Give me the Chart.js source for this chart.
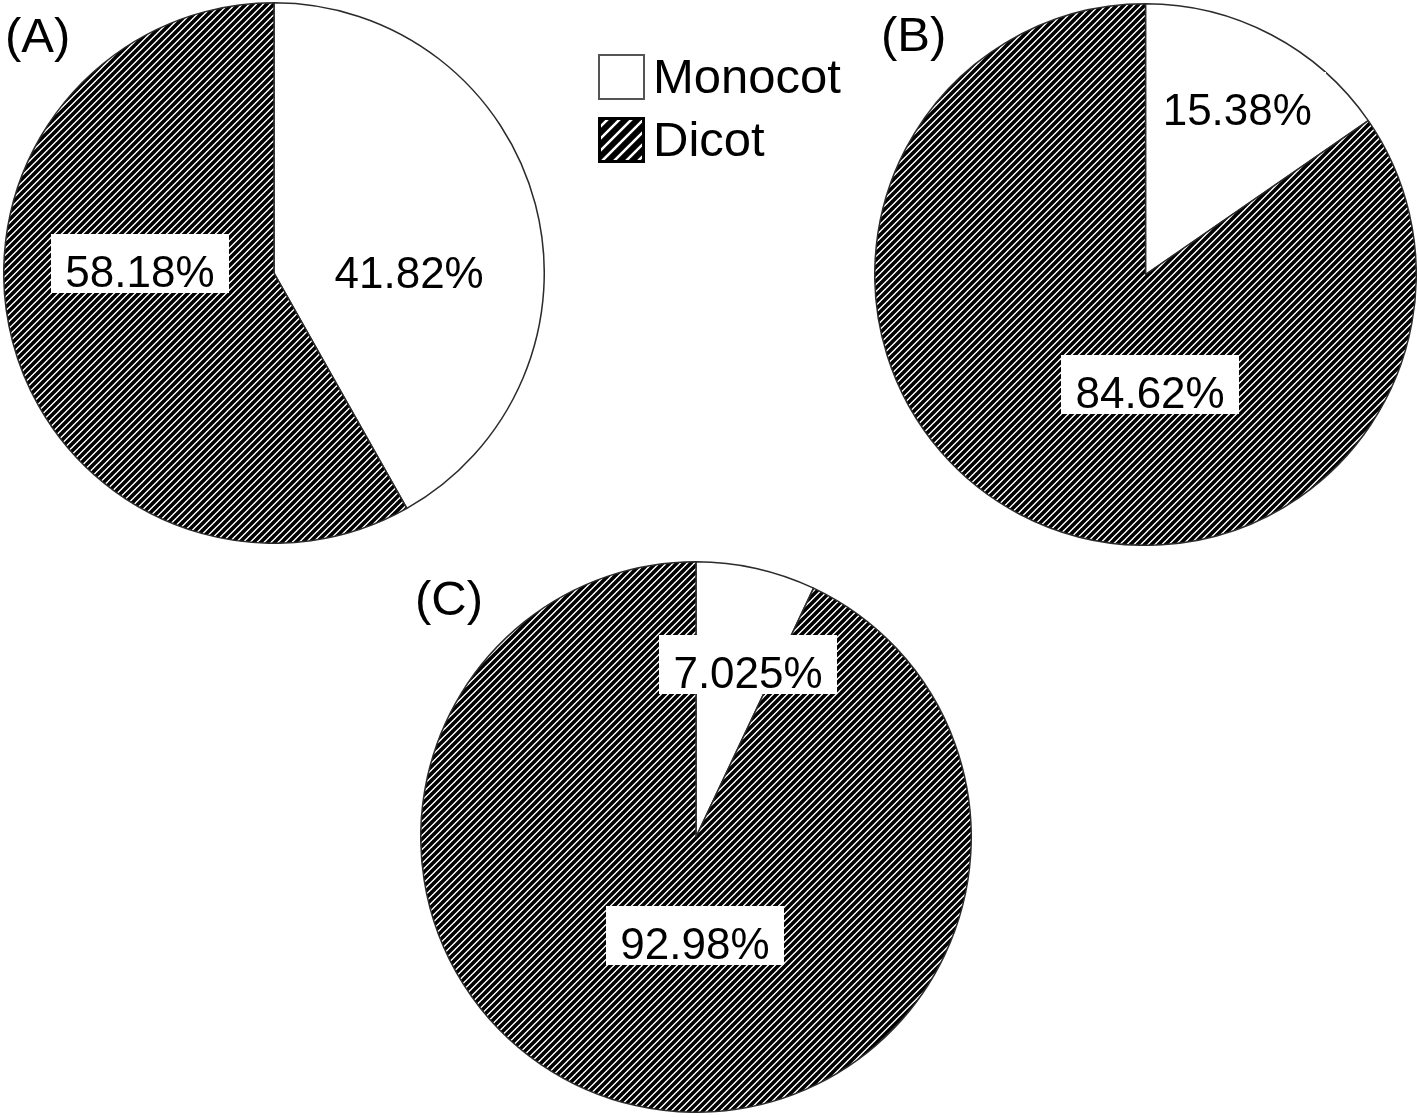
<!DOCTYPE html>
<html>
<head>
<meta charset="utf-8">
<script src="https://cdn.jsdelivr.net/npm/chart.js@4"></script>
<style>
  body { margin: 0; background: #fff; font-family: 'Liberation Sans', Arial, sans-serif; }
  #page { position: relative; width: 1418px; height: 1118px; overflow: hidden; }
  .pie { position: absolute; }
  .panel { position: absolute; font-size: 49px; line-height: 1; color: #000; }
  .legend { position: absolute; left: 598px; top: 52px; }
  .legend-row { position: absolute; left: 0; display: flex; align-items: center; white-space: nowrap; }
  .legend-row canvas { display: block; }
  .legend-row span { font-size: 49px; margin-left: 8px; line-height: 1; }
</style>
</head>
<body>
<div id="page">
  <div class="panel" style="left:5px;top:11px">(A)</div>
  <div class="panel" style="left:881px;top:10px">(B)</div>
  <div class="panel" style="left:415px;top:574px">(C)</div>
  <div class="legend">
    <div class="legend-row" style="top:0px"><canvas id="swMono" width="47" height="46"></canvas><span id="lgMono"></span></div>
    <div class="legend-row" style="top:63px"><canvas id="swDicot" width="47" height="46"></canvas><span id="lgDicot"></span></div>
  </div>
  <div class="pie" id="wrapA"><canvas id="pieA"></canvas></div>
  <div class="pie" id="wrapB"><canvas id="pieB"></canvas></div>
  <div class="pie" id="wrapC"><canvas id="pieC"></canvas></div>
</div>
<script>
// data
const categories = ['Monocot', 'Dicot']
const panels = ['(A)', '(B)', '(C)']
const monocotShare = [41.82, 15.38, 7.025]
const dicotShare = [58.18, 84.62, 92.98]
const shareLabels = [
  ['41.82%', '58.18%'],
  ['15.38%', '84.62%'],
  ['7.025%', '92.98%']
]

// layout: pie centre / radius in page pixels, label anchors in radius units
const pieLayout = [
  { id: 'A', cx: 274, cy: 273, r: 270, labels: [[0.500, -0.004], [-0.496, -0.007]] },
  { id: 'B', cx: 1145.5, cy: 274, r: 270.5, labels: [[0.339, -0.613], [0.017, 0.433]] },
  { id: 'C', cx: 696, cy: 837, r: 275, labels: [[0.189, -0.600], [-0.004, 0.385]] }
]
const BORDER = 1.5

function makeHatch() {
  const s = 7
  const c = document.createElement('canvas')
  c.width = s
  c.height = s
  const ctx = c.getContext('2d')
  ctx.fillStyle = '#fff'
  ctx.fillRect(0, 0, s, s)
  ctx.strokeStyle = '#000'
  ctx.lineWidth = 3.6
  ctx.beginPath()
  ctx.moveTo(-1, s + 1); ctx.lineTo(s + 1, -1)
  ctx.moveTo(-1, 1); ctx.lineTo(1, -1)
  ctx.moveTo(s - 1, s + 1); ctx.lineTo(s + 1, s - 1)
  ctx.stroke()
  return c
}
const hatchTile = makeHatch()
const hatchFor = ctx => ctx.createPattern(hatchTile, 'repeat')

// draws the percentage labels inside white boxes
const boxLabels = {
  id: 'boxLabels',
  afterDatasetsDraw(chart, args, opts) {
    const ctx = chart.ctx
    const arcs = chart.getDatasetMeta(0).data
    ctx.save()
    ctx.font = '44px "Liberation Sans", Arial, sans-serif'
    ctx.textAlign = 'center'
    ctx.textBaseline = 'alphabetic'
    arcs.forEach((arc, i) => {
      const r = arc.outerRadius
      const x = arc.x + opts.anchors[i][0] * r
      const y = arc.y + opts.anchors[i][1] * r
      const text = opts.texts[i]
      const w = ctx.measureText(text).width + 29
      ctx.fillStyle = '#fff'
      ctx.fillRect(Math.round(x - w / 2), Math.round(y - 37), Math.round(w), 59)
      ctx.fillStyle = '#000'
      ctx.fillText(text, x, y + 16)
    })
    ctx.restore()
  }
}

pieLayout.forEach((p, i) => {
  const size = Math.round(2 * p.r + BORDER)
  const wrap = document.getElementById('wrap' + p.id)
  wrap.style.left = (p.cx - size / 2) + 'px'
  wrap.style.top = (p.cy - size / 2) + 'px'
  wrap.style.width = size + 'px'
  wrap.style.height = size + 'px'
  const canvas = document.getElementById('pie' + p.id)
  canvas.width = size
  canvas.height = size
  const ctx = canvas.getContext('2d')

  new Chart(ctx, {
    type: 'pie',
    data: {
      labels: categories,
      datasets: [{
        label: panels[i],
        data: [monocotShare[i], dicotShare[i]],
        backgroundColor: ['#ffffff', hatchFor(ctx)],
        borderColor: '#2b2b2b',
        borderWidth: BORDER,
        borderAlign: 'center'
      }]
    },
    options: {
      responsive: false,
      animation: false,
      layout: { padding: 0 },
      rotation: 0,
      plugins: {
        legend: { display: false },
        tooltip: { enabled: false },
        boxLabels: { anchors: p.labels, texts: shareLabels[i] }
      }
    },
    plugins: [boxLabels]
  })
})

// legend swatches
document.getElementById('lgMono').textContent = categories[0]
document.getElementById('lgDicot').textContent = categories[1]
const sm = document.getElementById('swMono').getContext('2d')
sm.fillStyle = '#fff'
sm.fillRect(0, 0, 47, 46)
sm.strokeStyle = '#555'
sm.lineWidth = 2
sm.strokeRect(1, 1, 45, 44)
const sd = document.getElementById('swDicot').getContext('2d')
sd.fillStyle = '#000'
sd.fillRect(0, 0, 47, 46)
sd.strokeStyle = '#fff'
sd.lineWidth = 2.5
sd.beginPath()
for (let k = -46; k < 94; k += 12) {
  sd.moveTo(k, 46)
  sd.lineTo(k + 46, 0)
}
sd.stroke()
sd.strokeStyle = '#000'
sd.lineWidth = 3
sd.strokeRect(1.5, 1.5, 44, 43)
</script>
</body>
</html>
